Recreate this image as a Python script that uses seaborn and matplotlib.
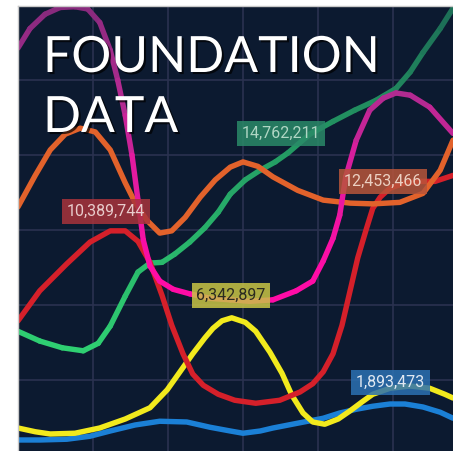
import matplotlib
matplotlib.use("Agg")
import matplotlib.pyplot as plt
import matplotlib.patheffects as pe
from matplotlib.collections import LineCollection
from matplotlib.colors import LinearSegmentedColormap, Normalize
import numpy as np
import pandas as pd
import seaborn as sns

# --- data (x = period, y = value units) ---
purple_x = [0, 0.16, 0.36, 0.56, 0.76, 0.93, 1.09, 1.23, 1.33, 1.43, 1.52, 1.60, 1.67, 1.76,
            1.89, 2.07, 2.29, 2.56, 2.83, 3.09, 3.40, 3.71, 3.93, 4.07, 4.20, 4.29, 4.37,
            4.51, 4.69, 4.87, 5.04, 5.23, 5.49, 5.80]
purple_y = [5.43, 5.69, 5.88, 5.97, 5.98, 5.95, 5.77, 5.40, 5.00, 4.53, 4.00, 3.40, 2.87, 2.52,
            2.32, 2.21, 2.15, 2.09, 2.07, 2.05, 2.07, 2.19, 2.32, 2.59, 2.89, 3.20, 3.71,
            4.20, 4.60, 4.76, 4.83, 4.80, 4.64, 4.29]

orange_x = [0, 0.23, 0.43, 0.63, 0.83, 1.03, 1.23, 1.43, 1.56, 1.72, 1.89, 2.05, 2.23, 2.43,
            2.63, 2.83, 3.00, 3.20, 3.40, 3.73, 4.07, 4.43, 4.73, 5.09, 5.40, 5.63, 5.80]
orange_y = [3.31, 3.73, 4.07, 4.28, 4.36, 4.31, 4.07, 3.63, 3.37, 3.13, 2.96, 2.99, 3.17, 3.44,
            3.67, 3.84, 3.91, 3.85, 3.71, 3.53, 3.40, 3.36, 3.35, 3.37, 3.49, 3.80, 4.20]

green_x = [0, 0.29, 0.59, 0.87, 1.07, 1.23, 1.43, 1.60, 1.76, 1.92, 2.09, 2.29, 2.49, 2.67,
           2.83, 3.03, 3.23, 3.43, 3.60, 3.89, 4.20, 4.49, 4.77, 5.04, 5.23, 5.40, 5.63, 5.80]
green_y = [1.65, 1.52, 1.43, 1.39, 1.49, 1.72, 2.12, 2.44, 2.56, 2.57, 2.68, 2.84, 3.03, 3.24,
           3.48, 3.67, 3.80, 3.91, 4.03, 4.28, 4.45, 4.60, 4.73, 4.89, 5.11, 5.37, 5.69, 5.96]

red_x = [0, 0.29, 0.65, 0.96, 1.23, 1.43, 1.60, 1.76, 1.92, 2.05, 2.20, 2.33, 2.47, 2.67,
         2.89, 3.17, 3.49, 3.76, 3.93, 4.07, 4.20, 4.32, 4.43, 4.53, 4.64, 4.73, 4.83,
         4.96, 5.16, 5.36, 5.56, 5.80]
red_y = [1.79, 2.19, 2.55, 2.84, 2.99, 2.99, 2.85, 2.57, 2.13, 1.73, 1.35, 1.08, 0.93, 0.81,
         0.73, 0.69, 0.73, 0.84, 0.95, 1.11, 1.35, 1.73, 2.20, 2.63, 3.00, 3.29, 3.44,
         3.56, 3.63, 3.65, 3.65, 3.73]

yellow_x = [0, 0.23, 0.43, 0.76, 1.09, 1.43, 1.76, 1.99, 2.16, 2.33, 2.49, 2.60, 2.72, 2.85,
            3.03, 3.17, 3.36, 3.52, 3.65, 3.80, 3.93, 4.09, 4.27, 4.43, 4.59, 4.73, 4.96,
            5.23, 5.49, 5.69, 5.80]
yellow_y = [0.36, 0.31, 0.28, 0.29, 0.36, 0.48, 0.63, 0.87, 1.11, 1.35, 1.56, 1.69, 1.79, 1.83,
            1.77, 1.65, 1.37, 1.09, 0.80, 0.56, 0.44, 0.41, 0.48, 0.59, 0.71, 0.81, 0.89,
            0.92, 0.89, 0.81, 0.76]

blue_x = [0, 0.29, 0.65, 0.96, 1.23, 1.56, 1.89, 2.25, 2.56, 2.83, 3.00, 3.23, 3.40, 3.76,
          4.07, 4.29, 4.51, 4.73, 4.96, 5.16, 5.40, 5.63, 5.80]
blue_y = [0.20, 0.20, 0.21, 0.25, 0.32, 0.40, 0.45, 0.44, 0.37, 0.32, 0.29, 0.32, 0.36, 0.43,
          0.49, 0.56, 0.61, 0.65, 0.68, 0.68, 0.64, 0.57, 0.49]

# callout labels
label_text = ["10,389,744", "14,762,211", "12,453,466", "6,342,897", "1,893,473"]
label_x = [1.17, 3.51, 4.87, 2.84, 4.97]
label_y = [3.25, 4.29, 3.65, 2.13, 0.97]
label_face = ["#a8333b", "#2a8a68", "#b8553a", "#c9c545", "#2b71b2"]
label_color = ["#e8cccc", "#b0d6c4", "#ecd0c2", "#2a2a20", "#e0e8f2"]

BG = "#0c1a30"
GRID = "#2b3250"

sns.set_theme(style="dark")
plt.rcParams["font.family"] = ["Roboto", "DejaVu Sans"]

fig = plt.figure(figsize=(4.53, 4.51), dpi=100, facecolor="white")
ax = fig.add_axes([18 / 453, 0, 435 / 453, 445 / 451])
ax.set_facecolor(BG)

LW = 3.9

# plain coloured lines
for xs, ys, col in [
    (blue_x, blue_y, "#1b80d6"),
    (yellow_x, yellow_y, "#f2ea1d"),
]:
    df = pd.DataFrame({"x": xs, "y": ys})
    sns.lineplot(data=df, x="x", y="y", color=col, linewidth=LW, sort=False, ax=ax,
                 solid_capstyle="round", solid_joinstyle="round")


def gradient_line(xs, ys, cmap, vmin, vmax):
    pts = np.column_stack([xs, ys]).reshape(-1, 1, 2)
    segs = np.concatenate([pts[:-1], pts[1:]], axis=1)
    mids = (np.array(ys[:-1]) + np.array(ys[1:])) / 2
    lc = LineCollection(segs, cmap=cmap, norm=Normalize(vmin, vmax),
                        linewidths=LW, capstyle="round", joinstyle="round")
    lc.set_array(mids)
    ax.add_collection(lc)


green_cmap = LinearSegmentedColormap.from_list("g", ["#2fd072", "#25a466", "#1c6c56"])
gradient_line(green_x, green_y, green_cmap, 1.4, 6.0)

for xs, ys, col in [
    (red_x, red_y, "#d5202a"),
    (orange_x, orange_y, "#e2622b"),
]:
    df = pd.DataFrame({"x": xs, "y": ys})
    sns.lineplot(data=df, x="x", y="y", color=col, linewidth=LW, sort=False, ax=ax,
                 solid_capstyle="round", solid_joinstyle="round")

purple_cmap = LinearSegmentedColormap.from_list("p", ["#ff0ca6", "#e41aa0", "#b02b90", "#862a7c"])
gradient_line(purple_x, purple_y, purple_cmap, 2.5, 6.0)

ax.set_xlim(0, 5.8)
ax.set_ylim(0.053, 5.99)
ax.set_xticks([1, 2, 3, 4, 5])
ax.set_yticks([1, 2, 3, 4, 5])
ax.grid(True, color=GRID, linewidth=1.2)
ax.set_axisbelow(True)
ax.tick_params(length=0, labelleft=False, labelbottom=False)
ax.set_xlabel("")
ax.set_ylabel("")
for side in ["right", "bottom"]:
    ax.spines[side].set_visible(False)
for side in ["left", "top"]:
    ax.spines[side].set_visible(True)
    ax.spines[side].set_color("#c9c9c9")
    ax.spines[side].set_linewidth(1.0)

for t, x, y, fc, tc in zip(label_text, label_x, label_y, label_face, label_color):
    ax.text(x, y, t, ha="center", va="center", fontsize=11.5, color=tc, zorder=10,
            bbox=dict(boxstyle="square,pad=0.3", facecolor=fc, edgecolor="none", alpha=0.85))

shadow = [pe.withSimplePatchShadow(offset=(1.5, -1.5), shadow_rgbFace="black", alpha=0.7)]
fig.text(43 / 453, 1 - 72 / 451, "FOUNDATION", fontsize=36, color="white",
         family=["Lato", "DejaVu Sans"], weight="normal", va="baseline", ha="left",
         path_effects=shadow)
fig.text(43 / 453, 1 - 132 / 451, "DATA", fontsize=36, color="white",
         family=["Lato", "DejaVu Sans"], weight="normal", va="baseline", ha="left",
         path_effects=shadow)

fig.savefig("out.png", dpi=100, facecolor="white")
